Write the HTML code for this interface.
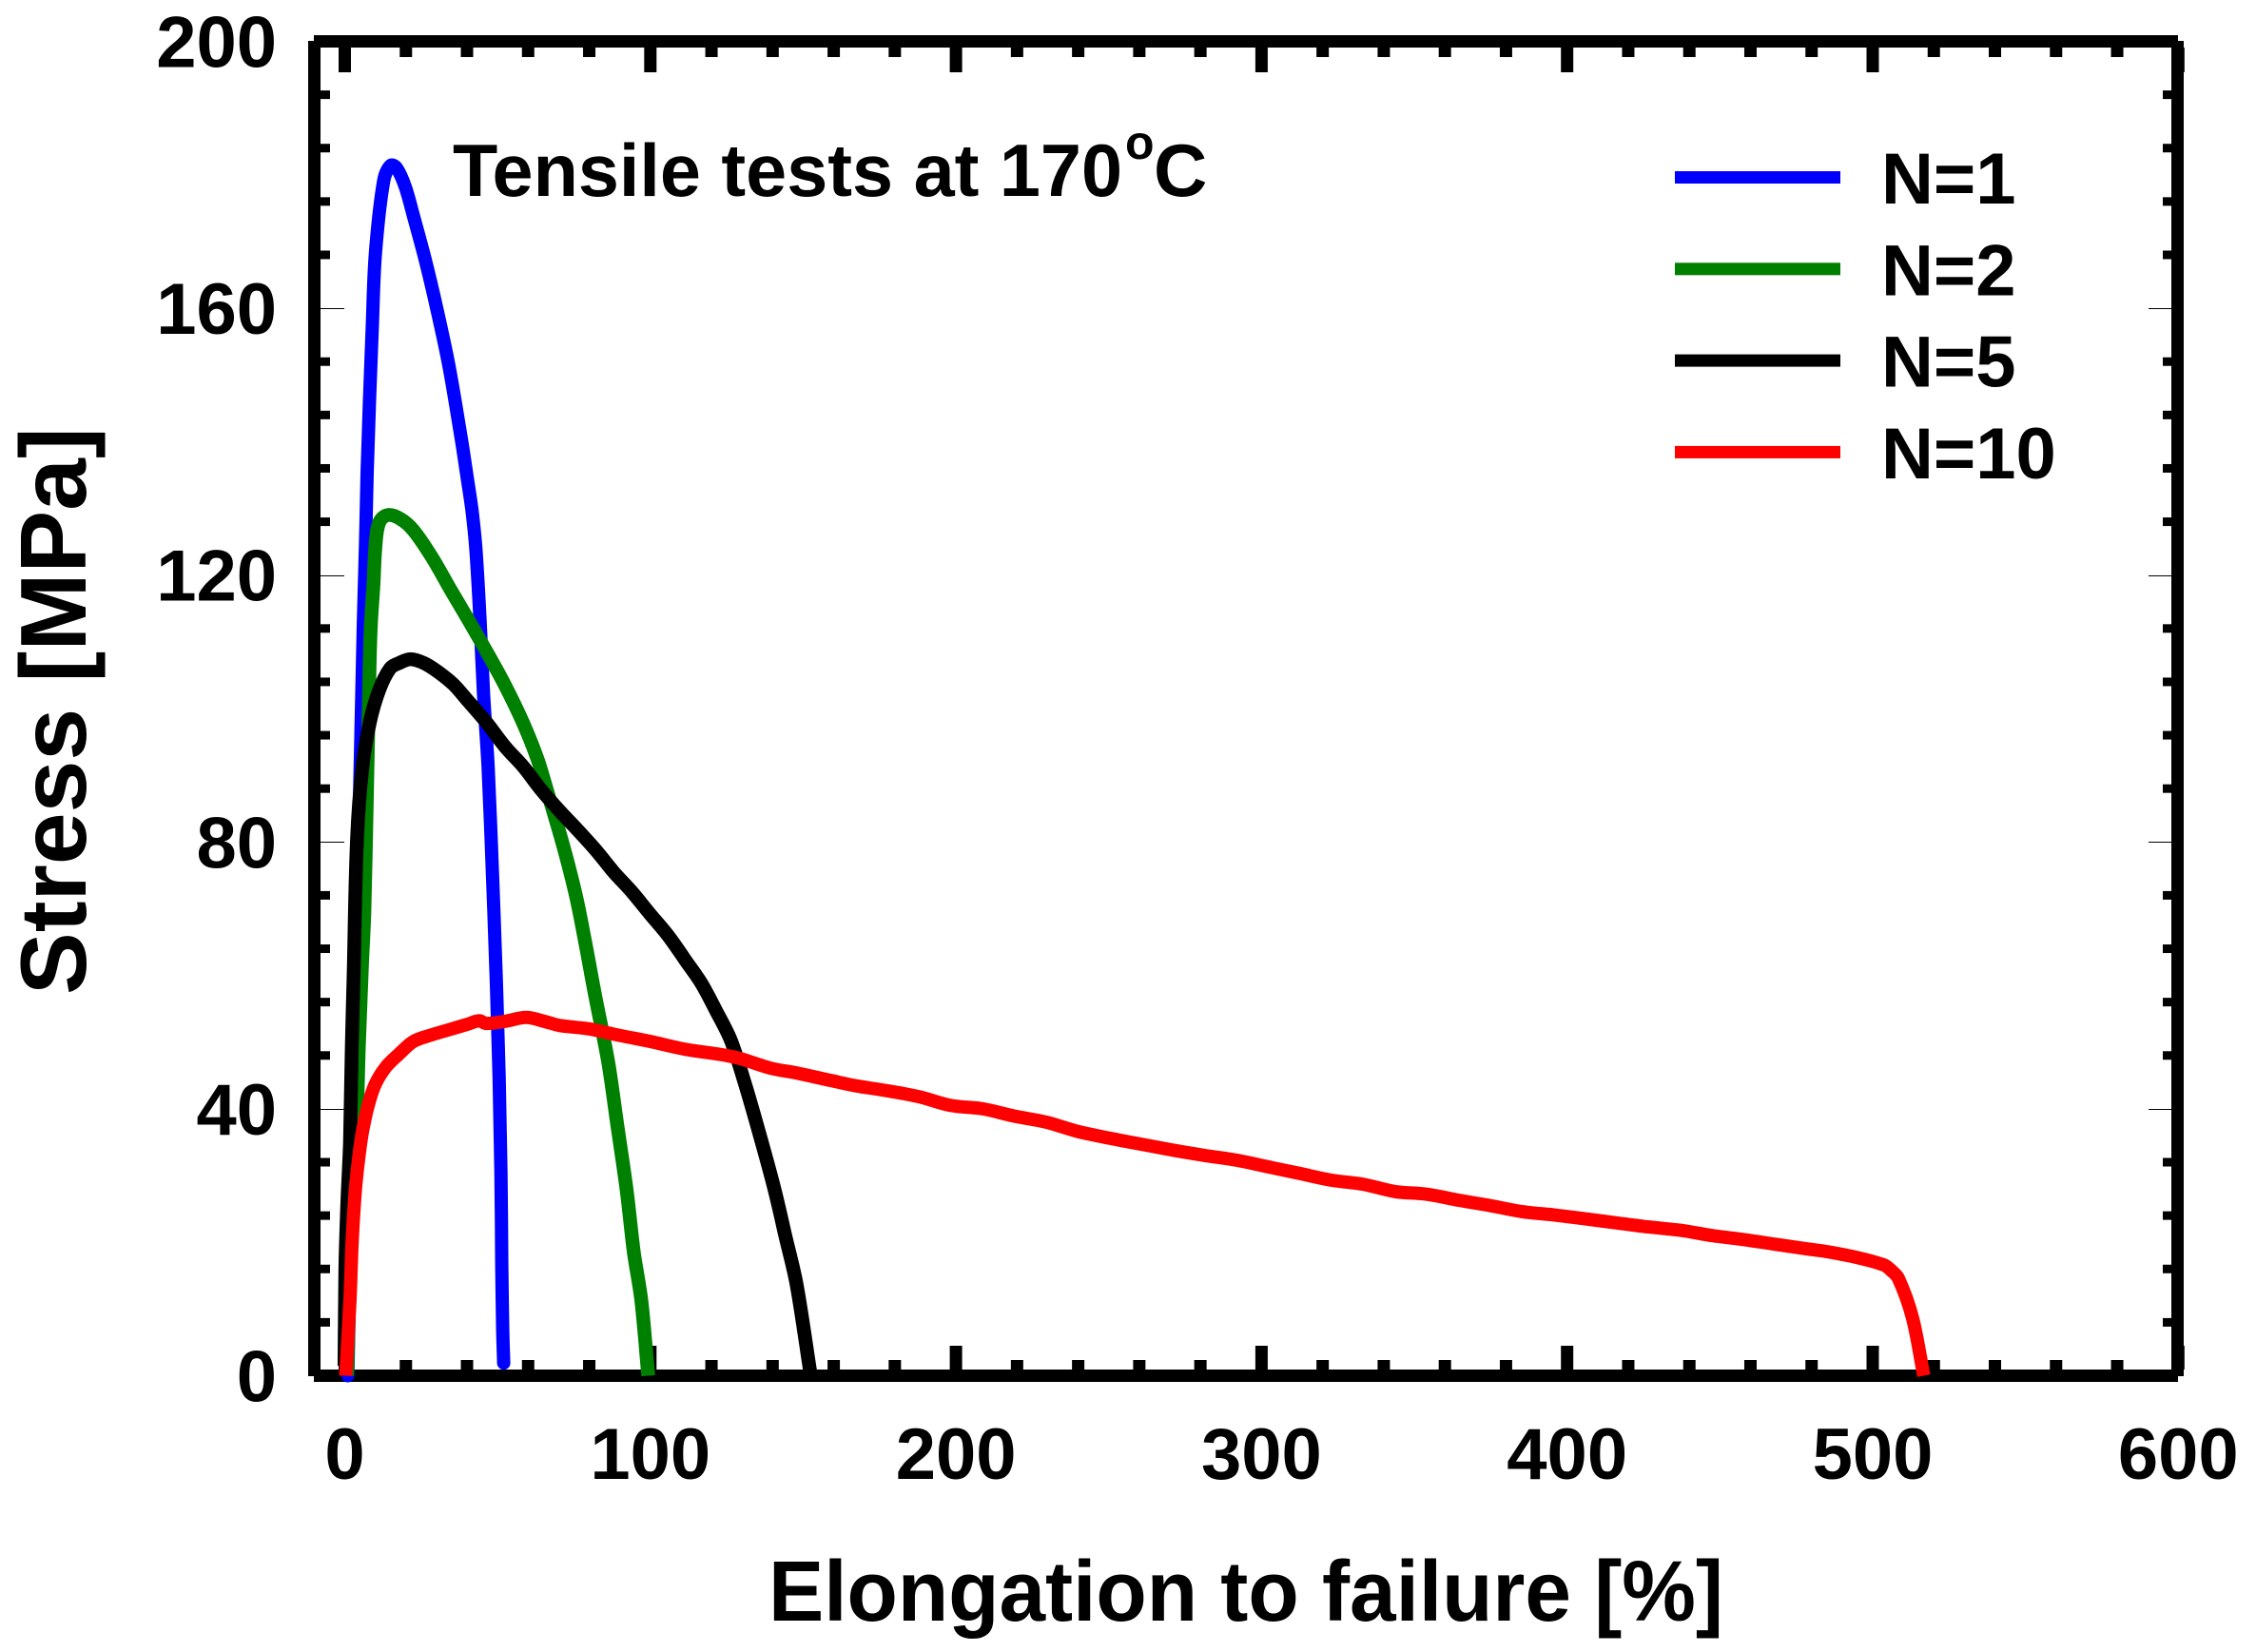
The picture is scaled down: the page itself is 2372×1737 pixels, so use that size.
<!DOCTYPE html>
<html lang="en">
<head>
<meta charset="utf-8">
<title>Tensile tests at 170°C</title>
<style>
html,body{margin:0;padding:0;background:#fff;}
svg{display:block;}
text{font-family:"Liberation Sans",sans-serif;font-weight:bold;fill:#000;}
</style>
</head>
<body>
<svg id="chart" width="2372" height="1737" viewBox="0 0 2372 1737" xmlns="http://www.w3.org/2000/svg">
  <rect x="0" y="0" width="2372" height="1737" fill="#fff"/>
  <g id="ticks"></g>
  <g fill="#000">
    <rect x="330" y="37" width="1960" height="13"/>
    <rect x="330" y="1440" width="1960" height="13"/>
    <rect x="324" y="43" width="13" height="1404"/>
    <rect x="2283" y="43" width="13" height="1404"/>
  </g>
  <g id="labels"></g>
  <g id="series"></g>
  <text x="808" y="1704" font-size="90" textLength="1004" lengthAdjust="spacingAndGlyphs">Elongation to failure [%]</text>
  <text transform="translate(90,1046) rotate(-90)" x="0" y="0" font-size="98.5">Stress [MPa]</text>
  <text x="476" y="206" font-size="78" textLength="704" lengthAdjust="spacingAndGlyphs">Tensile tests at 170</text>
  <text x="1183" y="167" font-size="50">o</text>
  <text x="1213" y="206" font-size="78">C</text>
  <g id="legend"></g>
</svg>
<script>
const xTickLabels = [0, 100, 200, 300, 400, 500, 600];
const yTickLabels = [0, 40, 80, 120, 160, 200];
const xMinorValues = [20, 40, 60, 80, 120, 140, 160, 180, 220, 240, 260, 280, 320, 340, 360, 380, 420, 440, 460, 480, 520, 540, 560, 580];
const yMinorValues = [8, 16, 24, 32, 48, 56, 64, 72, 88, 96, 104, 112, 128, 136, 144, 152, 168, 176, 184, 192];

const n1Strain = [1, 1.9, 2.9, 3.8, 4.8, 6.1, 6.8, 7.3, 8.1, 9, 10, 12.7, 15, 17, 19.8, 22.5, 26.2, 29.7, 34, 38, 39.8, 41.6, 42.9, 44.3, 45.4, 46.9, 47.9, 48.8, 49.6, 50.5, 51.1, 51.4, 51.7, 52];
const n1Stress = [0, 20, 40, 60, 85.8, 113, 124.4, 135.3, 146.2, 157.1, 168, 179, 181.4, 181, 178.2, 173.8, 167.5, 160.8, 151.6, 140.8, 135.4, 129.8, 124, 113, 102.2, 91.3, 80.4, 69.5, 58.9, 44.7, 30.4, 16.2, 6.6, 1.9];

const n2Strain = [0.8, 2, 4, 4.6, 5.6, 6.4, 7.2, 8.2, 8.6, 9.4, 10, 11.2, 14, 18.3, 22.5, 28.5, 34.4, 40.3, 46.2, 52.3, 58.3, 63.1, 66, 70.2, 73.2, 76.1, 79.1, 82, 86.2, 89.2, 92.2, 94.6, 97, 99.3];
const n2Stress = [0, 20, 39.9, 49.4, 61.3, 69.5, 85.9, 107.7, 113, 118.6, 124, 127.8, 129, 128.4, 126.7, 122.7, 118, 113.4, 108.7, 103.6, 97.9, 92.4, 88, 81.5, 76.5, 71, 64, 56.8, 47, 37.5, 28, 18.5, 11.4, 0];

const n5Strain = [-0.1, 0.2, 0.8, 1.7, 2.3, 2.9, 4, 5.8, 8.2, 11.2, 14.8, 17.7, 21.5, 26, 30.8, 35.6, 40.4, 46.4, 52.4, 58.4, 64.3, 70.2, 76.2, 82.1, 88, 94, 99.9, 105.9, 111.9, 116.7, 121.5, 126.3, 131, 135.8, 140.6, 144.2, 147.8, 152.5];
const n5Stress = [1.5, 16, 25.6, 35, 49.4, 60, 80.4, 91.3, 97.9, 102.7, 106, 106.8, 107.4, 106.8, 105.4, 103.6, 101.1, 97.9, 94.3, 91.3, 87.8, 84.7, 81.8, 78.8, 75.5, 72.5, 69.2, 65.9, 62, 58.8, 54.7, 50.3, 43.7, 36.1, 28, 20.9, 13.8, 0];

const n10Strain = [0.3, 1.7, 2.5, 3.5, 4.6, 5.8, 7.6, 10, 13.5, 17.7, 22.5, 28.5, 34.4, 40.3, 44, 46.2, 52.3, 59.4, 65.4, 70.2, 79.7, 87.9, 99.9, 111.8, 123.7, 129.7, 139.3, 147.6, 159.5, 167.3, 177.7, 188.1, 198.4, 208.8, 219.2, 229.6, 240, 250.3, 260.7, 271.1, 281.5, 291.8, 302.2, 312.6, 323, 333.3, 343.7, 354.1, 364.5, 374.8, 385.2, 395.6, 406, 416.4, 426.7, 437.1, 447.5, 457.9, 468.2, 478.6, 484.9, 495, 503.7, 505.8, 508.4, 513, 516.7];
const n10Stress = [0, 11.4, 20.9, 28, 32.8, 36.6, 40.4, 43.7, 46.3, 48.2, 50.1, 51.1, 51.9, 52.7, 53.2, 52.8, 53.1, 53.7, 53.1, 52.5, 52, 51.2, 50.1, 48.9, 48.1, 47.5, 46.1, 45.4, 44.2, 43.45, 42.7, 41.8, 40.5, 40, 38.9, 38, 36.6, 35.6, 34.7, 33.8, 33, 32.3, 31.3, 30.3, 29.3, 28.7, 27.6, 27.2, 26.3, 25.5, 24.6, 24.1, 23.5, 22.9, 22.3, 21.8, 21, 20.4, 19.7, 19, 18.6, 17.7, 16.6, 15.9, 14.6, 8.7, 0];

const legendLabels = ['N=1', 'N=2', 'N=5', 'N=10'];

const SVG_NS = 'http://www.w3.org/2000/svg';
const xScale = v => 362.5 + 3.213 * v;
const yScale = v => 1446.5 - 7.015 * v;

function makeRect(parent, x, y, w, h) {
  const r = document.createElementNS(SVG_NS, 'rect');
  r.setAttribute('x', x);
  r.setAttribute('y', y);
  r.setAttribute('width', w);
  r.setAttribute('height', h);
  r.setAttribute('fill', '#000');
  parent.appendChild(r);
  return r;
}

function makeText(parent, x, y, size, anchor, str) {
  const t = document.createElementNS(SVG_NS, 'text');
  t.setAttribute('x', x);
  t.setAttribute('y', y);
  t.setAttribute('font-size', size);
  t.setAttribute('text-anchor', anchor);
  t.textContent = str;
  parent.appendChild(t);
  return t;
}

const ticks = document.getElementById('ticks');
const labels = document.getElementById('labels');

xMinorValues.forEach(v => {
  const top = makeRect(ticks, xScale(v) - 6.5, 50, 13, 10);
  
  
  const bottom = makeRect(ticks, xScale(v) - 6.5, 1430, 13, 10);
  
  
});

yMinorValues.forEach(v => {
  const left = makeRect(ticks, 337, yScale(v) - 4.5, 10, 9);
  
  
  const right = makeRect(ticks, 2274, yScale(v) - 4.5, 9, 9);
  
  
});

xTickLabels.forEach(v => {
  const top = makeRect(ticks, xScale(v) - 6.5, 50, 13, 26);
  
  
  const bottom = makeRect(ticks, xScale(v) - 6.5, 1415, 13, 25);
  
  
  const label = makeText(labels, xScale(v), 1555, 76, 'middle', String(v));
  
  
});

yTickLabels.forEach(v => {
  const left = makeRect(ticks, 337, Math.round(yScale(v)), 25, 1);
  
  
  const right = makeRect(ticks, 2259, Math.round(yScale(v)), 24, 1);
  
  
  const label = makeText(labels, 291, yScale(v) + 27, 76, 'end', String(v));
  
  
});

function smoothPath(xs, ys) {
  const pts = xs.map((x, i) => [xScale(x), yScale(ys[i])]);
  const tangent = i => {
    const a = pts[Math.max(i - 1, 0)];
    const b = pts[Math.min(i + 1, pts.length - 1)];
    const dx = b[0] - a[0];
    const dy = b[1] - a[1];
    const len = Math.hypot(dx, dy) || 1;
    return [dx / len, dy / len];
  };
  let d = 'M' + pts[0][0].toFixed(1) + ' ' + pts[0][1].toFixed(1);
  for (let i = 0; i < pts.length - 1; i++) {
    const p = pts[i];
    const q = pts[i + 1];
    const seg = Math.hypot(q[0] - p[0], q[1] - p[1]) / 3;
    const t0 = tangent(i);
    const t1 = tangent(i + 1);
    d += ' C' + (p[0] + t0[0] * seg).toFixed(1) + ' ' + (p[1] + t0[1] * seg).toFixed(1) +
         ' ' + (q[0] - t1[0] * seg).toFixed(1) + ' ' + (q[1] - t1[1] * seg).toFixed(1) +
         ' ' + q[0].toFixed(1) + ' ' + q[1].toFixed(1);
  }
  return d;
}

function drawSeries(xs, ys, color, width, cap) {
  const line = document.createElementNS(SVG_NS, 'path');
  line.setAttribute('d', smoothPath(xs, ys));
  line.setAttribute('fill', 'none');
  line.setAttribute('stroke', color);
  line.setAttribute('stroke-width', width);
  line.setAttribute('stroke-linejoin', 'round');
  line.setAttribute('stroke-linecap', cap);
  document.getElementById('series').appendChild(line);
  return line;
}

const lineN1 = drawSeries(n1Strain, n1Stress, '#0000ff', 14, 'round');


const lineN2 = drawSeries(n2Strain, n2Stress, '#008000', 14.5, 'butt');


const lineN5 = drawSeries(n5Strain, n5Stress, '#000000', 14.5, 'butt');


const lineN10 = drawSeries(n10Strain, n10Stress, '#ff0000', 14, 'butt');



const legend = document.getElementById('legend');
const legendColors = ['#0000ff', '#008000', '#000000', '#ff0000'];
legendLabels.forEach((name, i) => {
  const rowY = 186.5 + i * 96.3;
  const swatch = makeRect(legend, 1761, rowY - 6.5, 174, 13);
  swatch.setAttribute('fill', legendColors[i]);
  
  
  const label = makeText(legend, 1978, rowY + 27.5, 76, 'start', name);
  
  
});
</script>
</body>
</html>
